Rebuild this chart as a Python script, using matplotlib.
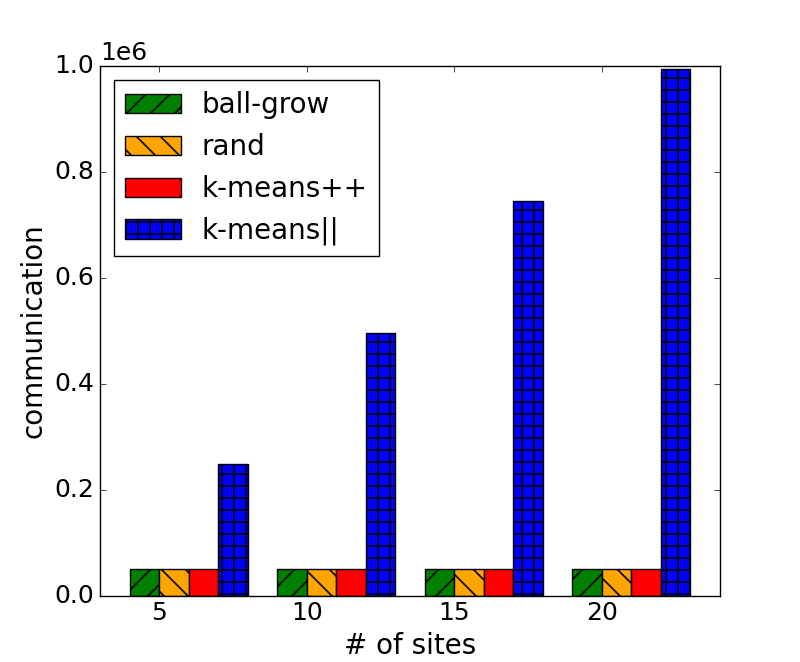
import numpy as np
import matplotlib
matplotlib.use('Agg')
import matplotlib.pyplot as plt

# data
sites = [5, 10, 15, 20]
ball_grow = [50000, 50000, 50000, 50000]
rand = [50000, 50000, 50000, 50000]
kmeans_pp = [50000, 50000, 50000, 50000]
kmeans_par = [248500, 497000, 745500, 994000]

labels = ['ball-grow', 'rand', 'k-means++', 'k-means||']
colors = ['green', 'orange', 'red', 'blue']
hatches = ['//', '\\\\', '', '++']

# drawn at 144 dpi so the hatch spacing matches; point sizes scaled back
DPI = 144
S = 100.0 / DPI

plt.style.use('classic')
plt.rcParams.update({
    'font.size': 18 * S,
    'axes.linewidth': 1.0 * S,
    'patch.linewidth': 1.0 * S,
    'hatch.linewidth': 1.2 * S,
    'hatch.color': 'black',
    'xtick.major.size': 4 * S,
    'ytick.major.size': 4 * S,
    'xtick.major.width': 0.5 * S,
    'ytick.major.width': 0.5 * S,
    'xtick.major.pad': 4 * S,
    'ytick.major.pad': 4 * S,
    'axes.labelpad': 5 * S,
    'figure.facecolor': 'white',
})

fig = plt.figure(figsize=(800.0 / DPI, 662.0 / DPI), dpi=DPI)
ax = fig.add_subplot(111)
fig.subplots_adjust(left=0.125, right=0.9, bottom=0.1, top=0.9)

series = [ball_grow, rand, kmeans_pp, kmeans_par]
x = np.array(sites, dtype=float)
for i, vals in enumerate(series):
    ax.bar(x - 1 + i, vals, width=1.0, align='edge', color=colors[i],
           hatch=hatches[i], edgecolor='black', linewidth=1.0 * S,
           label=labels[i])

ax.set_xlim(3, 24)
ax.set_ylim(0, 1e6)
ax.set_xticks(sites)
ax.ticklabel_format(axis='y', style='sci', scilimits=(0, 0))
ax.set_xlabel('# of sites', fontsize=20 * S)
ax.set_ylabel('communication', fontsize=20 * S)

ax.legend(loc='upper left', fontsize=20 * S, handletextpad=0.75)

fig.savefig('out.png', dpi=DPI, facecolor='white')
